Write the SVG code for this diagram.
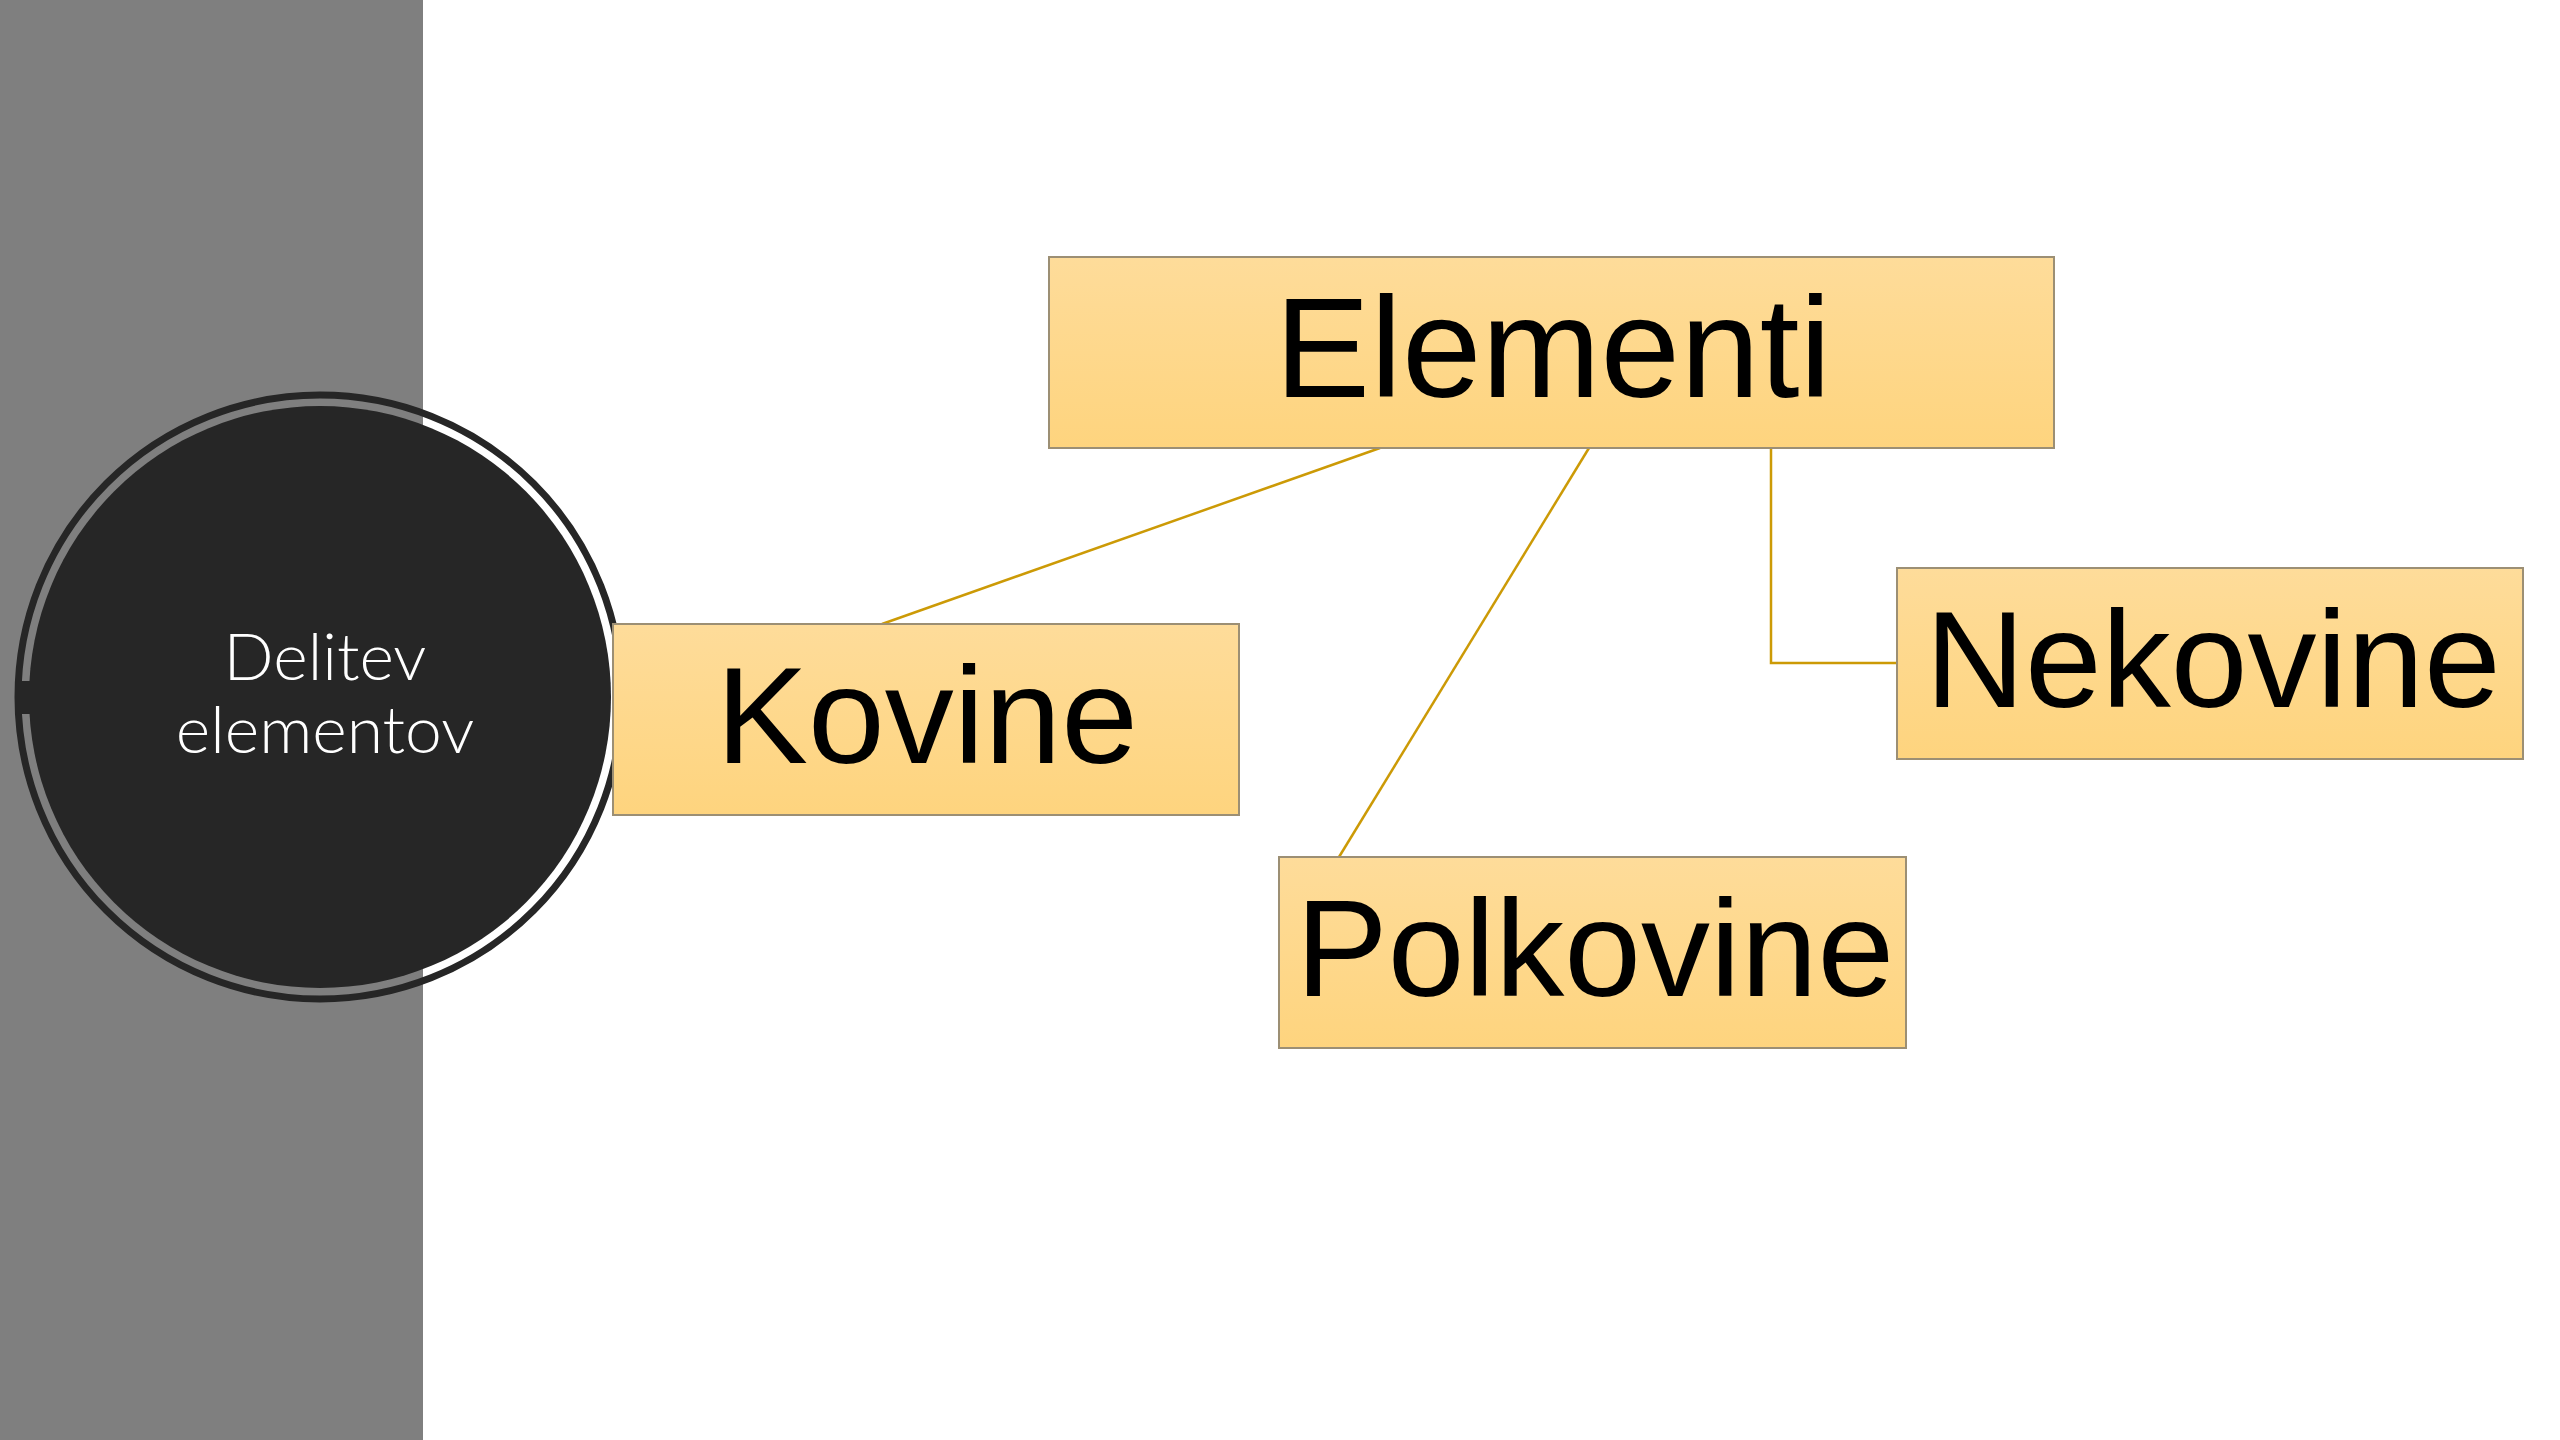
<svg xmlns="http://www.w3.org/2000/svg" width="2560" height="1440" viewBox="0 0 2560 1440">
<defs>
<linearGradient id="boxFill" x1="0" y1="0" x2="0" y2="1">
<stop offset="0" stop-color="#FEDC9A"/>
<stop offset="1" stop-color="#FED47E"/>
</linearGradient>
<style>
.box{fill:url(#boxFill);stroke:#9C8F74;stroke-width:2}
.lbl{font-family:"Liberation Sans",Arial,sans-serif;font-size:138px;fill:#000;text-anchor:middle}
.conn{fill:none;stroke:#CC9A06;stroke-width:2.5}
.ctr{font-family:"Lato","Liberation Sans",sans-serif;font-weight:300;font-size:66px;fill:#fff;text-anchor:middle}
</style>
</defs>
<rect x="0" y="0" width="2560" height="1440" fill="#fff"/>
<rect x="0" y="0" width="423" height="1440" fill="#7F7F7F"/>
<g id="connectors">
<line class="conn" x1="1380" y1="448" x2="882" y2="624"/>
<line class="conn" x1="1589" y1="448" x2="1339" y2="857"/>
<polyline class="conn" points="1771,448 1771,663 1897,663"/>
</g>
<g id="center">
<circle cx="320" cy="697" r="302" fill="none" stroke="#262626" stroke-width="7"/>
<circle cx="320" cy="697" r="291" fill="#262626"/>
<rect x="18" y="681" width="24" height="33" fill="#262626"/>
<text class="ctr" x="325" y="680">Delitev</text>
<text class="ctr" x="325" y="753">elementov</text>
</g>
<g id="elementi">
<rect class="box" x="1049" y="257" width="1005" height="191"/>
<text class="lbl" x="1553" y="397" style="font-size:143px">Elementi</text>
</g>
<g id="kovine">
<rect class="box" x="613" y="624" width="626" height="191"/>
<text class="lbl" x="927" y="763">Kovine</text>
</g>
<g id="nekovine">
<rect class="box" x="1897" y="568" width="626" height="191"/>
<text class="lbl" x="2213" y="707">Nekovine</text>
</g>
<g id="polkovine">
<rect class="box" x="1279" y="857" width="627" height="191"/>
<text class="lbl" x="1595" y="996">Polkovine</text>
</g>
</svg>
